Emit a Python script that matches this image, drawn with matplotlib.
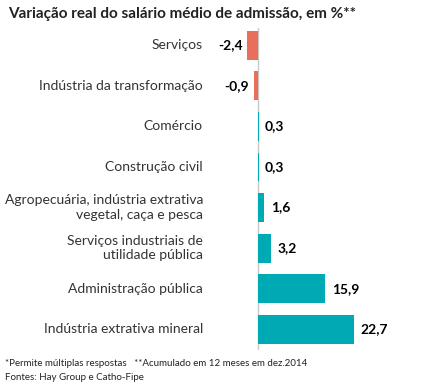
import matplotlib
matplotlib.use('Agg')
import matplotlib.pyplot as plt
import matplotlib.transforms as mtransforms

# dados
categorias = ['Serviços', 'Indústria da transformação', 'Comércio', 'Construção civil',
              'Agropecuária, indústria extrativa\nvegetal, caça e pesca',
              'Serviços industriais de\nutilidade pública',
              'Administração pública', 'Indústria extrativa mineral']
valores = [-2.4, -0.9, 0.3, 0.3, 1.6, 3.2, 15.9, 22.7]
rotulos = ['-2,4', '-0,9', '0,3', '0,3', '1,6', '3,2', '15,9', '22,7']

titulo = 'Variação real do salário médio de admissão, em %**'
nota1 = '*Permite múltiplas respostas   **Acumulado em 12 meses em dez.2014'
nota2 = 'Fontes: Hay Group e Catho-Fipe'

fonte = ['Lato', 'DejaVu Sans']
plt.rcParams['font.family'] = fonte

cor_neg = '#e8705a'
cor_pos = '#00aab5'

fig = plt.figure(figsize=(4.26, 3.85), dpi=100)
ax = fig.add_axes([0.5634, 0.0909, 0.399, 0.836])

y = list(range(len(valores)))
cores = [cor_neg if v < 0 else cor_pos for v in valores]
ax.barh(y, valores, height=0.71, color=cores)
ax.axvline(0, color='#c8c8c8', lw=1, zorder=0)

ax.set_xlim(-4.10, 35.7)
ax.set_ylim(7.51, -0.42)
ax.axis('off')

# rótulos de valor
for i, (v, r) in enumerate(zip(valores, rotulos)):
    if v < 0:
        ax.annotate(r, (v, i), xytext=(-3.5, 0), textcoords='offset points',
                    ha='right', va='center', fontsize=10, fontweight='bold')
    else:
        ax.annotate(r, (v, i), xytext=(4.5, 0), textcoords='offset points',
                    ha='left', va='center', fontsize=10, fontweight='bold')

# categorias
trans = mtransforms.blended_transform_factory(fig.transFigure, ax.transData)
for i, c in enumerate(categorias):
    ax.text(203 / 426, i, c, transform=trans, ha='right', va='center',
            fontsize=10, color='#333333', linespacing=1.25, clip_on=False)

fig.text(8 / 426, 1 - 14 / 385, titulo, ha='left', va='center',
         fontsize=11, fontweight='bold', color='#222222')
fig.text(5 / 426, 1 - 364 / 385, nota1, ha='left', va='center', fontsize=7, color='#222222')
fig.text(5 / 426, 1 - 377 / 385, nota2, ha='left', va='center', fontsize=7, color='#222222')

fig.savefig('out.png', dpi=100)
